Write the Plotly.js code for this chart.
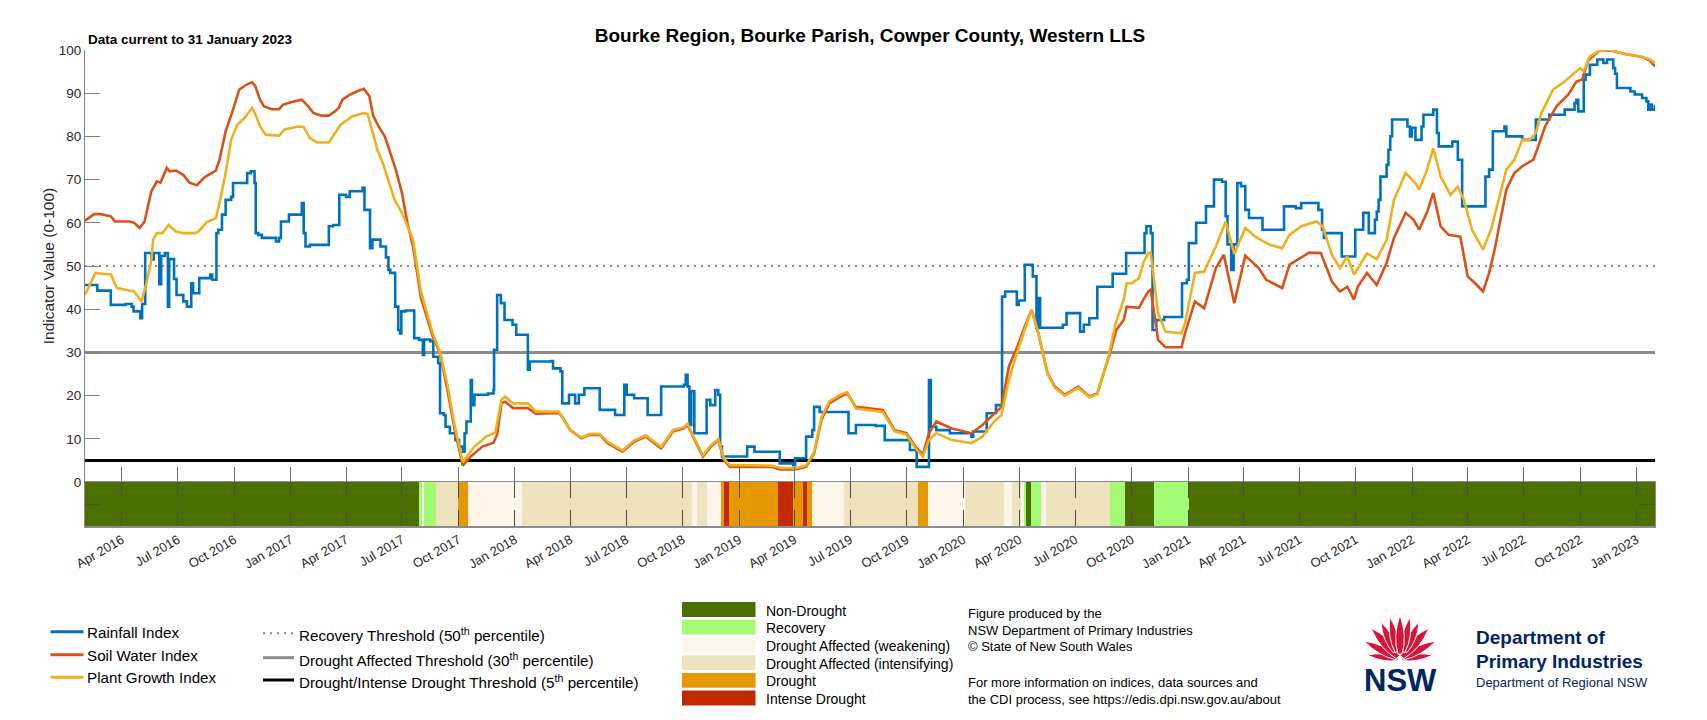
<!DOCTYPE html>
<html>
<head>
<meta charset="utf-8">
<script src="https://cdn.plot.ly/plotly-3.0.1.min.js"></script>
<style>
html,body{margin:0;padding:0;background:#fff;}
#chart{width:1707px;height:720px;}
</style>
</head>
<body>
<div id="chart"></div>
<script>
// ---------------- DATA ----------------
const chartTitle = 'Bourke Region, Bourke Parish, Cowper County, Western LLS';
const dataNote = 'Data current to 31 January 2023';
const xStart = '2016-02-01';
const xEnd = '2023-01-31';

const seriesNames = ['Rainfall Index', 'Soil Water Index', 'Plant Growth Index'];
const seriesColors = ['#0072BD', '#D95319', '#EDB120'];

const rainDates = ['2016-02-01','2016-02-21','2016-03-14','2016-04-07','2016-04-17','2016-04-20','2016-05-01','2016-05-04','2016-05-09','2016-05-19','2016-05-23','2016-06-01','2016-06-04','2016-06-10','2016-06-15','2016-06-17','2016-06-25','2016-06-29','2016-07-10','2016-07-16','2016-07-23','2016-07-26','2016-08-05','2016-08-23','2016-08-26','2016-09-02','2016-09-05','2016-09-11','2016-09-17','2016-09-26','2016-09-29','2016-10-22','2016-10-28','2016-11-03','2016-11-05','2016-11-09','2016-11-15','2016-12-08','2016-12-13','2016-12-16','2016-12-29','2017-01-19','2017-01-22','2017-01-25','2017-02-01','2017-03-04','2017-03-11','2017-03-21','2017-04-01','2017-04-07','2017-04-28','2017-05-01','2017-05-10','2017-05-14','2017-05-27','2017-06-05','2017-06-09','2017-06-12','2017-06-20','2017-06-25','2017-06-28','2017-06-30','2017-07-07','2017-07-21','2017-07-29','2017-08-04','2017-08-06','2017-08-16','2017-08-21','2017-08-29','2017-09-01','2017-09-07','2017-09-10','2017-09-17','2017-09-26','2017-10-02','2017-10-08','2017-10-11','2017-10-14','2017-10-21','2017-10-23','2017-10-27','2017-11-18','2017-11-27','2017-11-28','2017-12-03','2017-12-09','2017-12-15','2017-12-28','2018-01-03','2018-01-22','2018-01-25','2018-02-28','2018-03-04','2018-03-16','2018-03-19','2018-03-30','2018-04-09','2018-04-15','2018-04-24','2018-05-19','2018-06-13','2018-06-28','2018-07-02','2018-07-14','2018-08-05','2018-08-27','2018-10-03','2018-10-06','2018-10-09','2018-10-12','2018-10-15','2018-10-20','2018-11-09','2018-11-15','2018-11-23','2018-11-28','2018-12-01','2018-12-04','2019-01-14','2019-01-26','2019-03-08','2019-03-30','2019-04-02','2019-04-20','2019-04-30','2019-05-03','2019-05-12','2019-06-28','2019-07-10','2019-08-11','2019-08-26','2019-10-06','2019-10-17','2019-11-06','2019-11-09','2019-11-18','2019-12-10','2020-01-14','2020-01-17','2020-02-08','2020-02-23','2020-03-04','2020-03-09','2020-03-28','2020-03-31','2020-04-10','2020-04-23','2020-04-29','2020-05-02','2020-05-05','2020-06-11','2020-06-17','2020-07-09','2020-07-15','2020-07-24','2020-08-06','2020-08-31','2020-09-22','2020-10-22','2020-10-25','2020-11-01','2020-11-04','2020-11-10','2020-11-23','2020-12-22','2020-12-30','2021-01-02','2021-01-14','2021-01-30','2021-02-12','2021-02-25','2021-03-03','2021-03-06','2021-03-12','2021-03-16','2021-03-22','2021-03-28','2021-04-04','2021-04-10','2021-05-02','2021-06-06','2021-06-25','2021-07-04','2021-08-01','2021-08-07','2021-08-10','2021-08-13','2021-09-08','2021-09-30','2021-10-13','2021-10-22','2021-11-01','2021-11-04','2021-11-07','2021-11-10','2021-11-20','2021-11-23','2021-11-26','2021-11-29','2021-12-24','2021-12-28','2021-12-31','2022-01-06','2022-01-16','2022-01-19','2022-02-04','2022-02-10','2022-02-13','2022-03-07','2022-03-16','2022-03-23','2022-04-30','2022-05-06','2022-05-12','2022-05-31','2022-06-03','2022-06-29','2022-07-21','2022-08-12','2022-09-06','2022-09-22','2022-09-25','2022-09-28','2022-10-07','2022-10-10','2022-10-17','2022-10-29','2022-11-08','2022-11-14','2022-11-24','2022-11-27','2022-11-30','2022-12-22','2022-12-29','2023-01-10','2023-01-17','2023-01-20','2023-01-23','2023-01-26','2023-01-31'];
const rainValues = [45.6,44.3,41.0,41.2,40.6,39.5,37.9,41.2,53.0,51.5,53.0,45.8,52.3,53.0,40.6,51.6,47.0,43.3,41.8,40.6,46.0,43.7,47.2,48.0,46.8,57.6,58.4,61.9,65.3,66.0,69.2,71.5,71.9,69.2,57.6,57.2,56.5,55.7,56.5,60.3,61.9,64.6,57.6,54.5,54.9,59.2,59.5,66.5,66.0,67.3,68.1,63.0,54.1,56.1,54.5,52.0,49.1,48.4,40.6,35.2,34.4,39.5,39.7,33.3,32.9,29.4,33.0,32.6,29.0,27.5,15.9,15.5,12.8,11.3,9.7,8.2,7.0,11.3,14.0,23.6,17.8,20.2,20.5,21.3,30.6,43.3,41.4,37.5,36.4,34.1,26.0,27.9,28.0,26.3,25.6,18.2,20.2,18.2,20.2,21.7,16.7,15.5,22.5,20.2,19.4,15.5,22.1,22.5,24.8,22.1,13.2,21.0,11.3,19.0,17.8,21.3,20.2,8.2,5.9,8.2,7.0,4.3,3.9,5.5,10.5,12.0,17.4,16.2,11.3,13.2,13.0,9.7,7.4,3.5,23.6,12.8,12.0,11.3,10.5,11.7,15.9,17.8,42.9,44.1,41.0,42.0,50.3,47.6,35.6,42.6,35.7,36.4,39.1,34.8,36.4,37.9,45.2,48.2,53.0,57.6,59.2,57.6,35.2,37.5,38.2,46.0,46.8,55.3,60.0,63.8,70.0,69.5,61.5,55.0,49.1,55.0,69.2,68.5,63.0,61.1,58.4,63.8,63.4,64.6,63.0,58.4,56.5,57.6,52.2,58.4,62.3,57.6,60.7,62.6,65.3,70.7,73.4,76.9,80.0,83.9,82.3,80.0,82.0,79.2,82.3,85.0,86.2,80.8,77.7,78.8,74.6,63.8,70.7,72.3,81.2,82.3,80.0,79.2,83.9,85.0,86.2,87.7,88.5,85.8,93.1,94.3,96.6,97.8,97.0,97.8,95.8,94.5,91.2,90.4,89.7,88.9,88.1,86.2,87.4,86.2,87.3];

const soilDates = ['2016-02-01','2016-02-16','2016-02-26','2016-03-08','2016-03-14','2016-03-21','2016-04-14','2016-04-21','2016-04-30','2016-05-08','2016-05-19','2016-05-28','2016-06-03','2016-06-13','2016-06-18','2016-06-28','2016-07-10','2016-07-20','2016-08-01','2016-08-14','2016-09-01','2016-09-07','2016-09-17','2016-09-29','2016-10-09','2016-10-21','2016-10-30','2016-11-04','2016-11-12','2016-11-18','2016-12-01','2016-12-13','2016-12-19','2017-01-01','2017-01-19','2017-01-29','2017-02-07','2017-02-20','2017-03-04','2017-03-14','2017-03-20','2017-03-26','2017-04-08','2017-04-20','2017-04-30','2017-05-09','2017-05-15','2017-05-24','2017-06-03','2017-06-12','2017-06-21','2017-07-01','2017-07-10','2017-07-19','2017-08-01','2017-08-20','2017-09-01','2017-09-13','2017-09-25','2017-10-08','2017-10-21','2017-11-09','2017-11-27','2017-12-03','2017-12-10','2017-12-16','2017-12-29','2018-01-22','2018-02-04','2018-03-13','2018-03-19','2018-04-01','2018-04-19','2018-05-02','2018-05-19','2018-06-01','2018-06-25','2018-07-14','2018-08-02','2018-08-27','2018-09-15','2018-10-03','2018-10-09','2018-10-23','2018-11-03','2018-11-16','2018-11-28','2018-12-07','2018-12-17','2019-01-04','2019-02-23','2019-03-08','2019-04-02','2019-04-20','2019-05-03','2019-05-15','2019-05-28','2019-06-15','2019-06-26','2019-07-10','2019-08-23','2019-09-11','2019-09-30','2019-10-15','2019-10-27','2019-11-06','2019-11-18','2019-12-13','2020-01-14','2020-02-01','2020-02-20','2020-03-03','2020-03-15','2020-03-28','2020-04-10','2020-04-21','2020-05-02','2020-05-17','2020-05-29','2020-06-14','2020-07-06','2020-07-24','2020-08-06','2020-08-25','2020-09-06','2020-09-18','2020-09-23','2020-10-13','2020-10-20','2020-10-28','2020-11-01','2020-11-13','2020-11-25','2020-12-21','2020-12-27','2021-01-12','2021-01-27','2021-02-15','2021-02-28','2021-03-17','2021-04-04','2021-04-26','2021-05-08','2021-06-03','2021-06-15','2021-07-17','2021-08-05','2021-08-23','2021-09-05','2021-09-17','2021-09-28','2021-10-04','2021-10-19','2021-11-04','2021-11-20','2021-12-02','2021-12-21','2022-01-03','2022-01-12','2022-01-25','2022-02-04','2022-02-16','2022-03-01','2022-03-20','2022-03-26','2022-04-01','2022-04-13','2022-04-26','2022-05-06','2022-05-15','2022-06-03','2022-06-16','2022-06-29','2022-07-17','2022-07-23','2022-08-05','2022-08-24','2022-09-12','2022-09-25','2022-10-04','2022-10-14','2022-11-01','2022-11-20','2022-12-09','2023-01-10','2023-01-22','2023-01-31'];
const soilValues = [60.5,62.0,62.0,61.7,61.5,60.3,60.3,60.0,58.8,60.3,67.3,69.6,69.3,72.7,71.9,72.1,71.1,69.3,68.7,70.6,72.1,74.6,81.2,86.2,90.8,92.0,92.5,91.7,88.5,87.0,86.3,86.3,87.3,87.9,88.5,87.0,85.4,84.8,84.8,85.8,86.6,88.5,89.7,90.5,91.0,89.3,84.8,82.3,80.0,76.2,72.3,66.9,59.9,54.5,42.6,33.7,29.8,21.3,12.0,3.8,5.9,8.2,9.1,11.0,18.3,18.6,17.1,17.1,15.8,16.0,15.1,12.0,10.1,10.9,10.9,9.0,7.0,9.3,10.5,7.8,11.7,12.4,13.2,9.0,5.9,8.2,9.7,5.1,3.5,3.5,3.5,2.9,2.9,3.5,6.6,14.4,18.2,19.8,20.5,17.4,16.7,12.0,11.3,8.2,6.4,11.3,14.0,12.4,11.3,13.2,15.9,17.4,26.7,31.0,36.0,39.9,34.4,25.2,22.1,20.2,22.1,19.8,20.5,29.0,35.2,37.5,40.6,40.3,42.2,44.1,44.5,32.9,31.2,31.2,34.5,41.8,40.2,49.5,52.6,41.4,52.4,49.5,46.8,44.9,50.3,53.1,53.0,46.4,44.1,45.2,42.2,45.2,48.4,45.6,50.7,56.5,62.3,60.7,58.4,62.5,66.9,59.2,57.2,56.8,52.2,47.6,46.0,44.1,48.4,53.8,67.7,71.5,73.1,74.6,76.9,82.3,87.0,89.7,92.7,93.1,97.5,99.8,99.9,99.2,98.4,97.6,96.2];

const plantDates = ['2016-02-01','2016-02-09','2016-02-18','2016-03-08','2016-03-14','2016-03-24','2016-04-07','2016-04-21','2016-05-03','2016-05-11','2016-05-19','2016-05-22','2016-05-28','2016-06-06','2016-06-16','2016-06-28','2016-07-10','2016-07-29','2016-08-04','2016-08-17','2016-09-01','2016-09-07','2016-09-17','2016-09-26','2016-10-06','2016-10-18','2016-10-30','2016-11-06','2016-11-12','2016-11-21','2016-12-13','2016-12-22','2017-01-13','2017-01-22','2017-02-01','2017-02-13','2017-03-04','2017-03-14','2017-03-23','2017-04-11','2017-04-30','2017-05-06','2017-05-12','2017-05-22','2017-05-31','2017-06-19','2017-07-01','2017-07-19','2017-08-01','2017-08-20','2017-09-01','2017-09-13','2017-09-25','2017-10-08','2017-10-27','2017-11-15','2017-11-30','2017-12-10','2017-12-16','2017-12-29','2018-01-22','2018-02-04','2018-03-13','2018-03-19','2018-04-01','2018-04-19','2018-05-02','2018-05-19','2018-06-01','2018-06-25','2018-07-14','2018-08-02','2018-08-27','2018-09-15','2018-10-03','2018-10-09','2018-10-23','2018-11-03','2018-11-16','2018-11-28','2018-12-07','2018-12-17','2019-01-04','2019-02-23','2019-03-08','2019-04-02','2019-04-20','2019-05-03','2019-05-15','2019-05-28','2019-06-15','2019-06-26','2019-07-10','2019-08-23','2019-09-11','2019-09-30','2019-10-15','2019-10-27','2019-11-06','2019-11-18','2019-12-13','2020-01-14','2020-02-01','2020-02-20','2020-03-03','2020-03-15','2020-03-28','2020-04-10','2020-04-21','2020-05-02','2020-05-17','2020-05-29','2020-06-14','2020-07-06','2020-07-24','2020-08-06','2020-08-25','2020-09-05','2020-09-18','2020-09-23','2020-10-01','2020-10-13','2020-10-20','2020-10-28','2020-11-01','2020-11-13','2020-11-25','2020-12-21','2020-12-27','2021-01-12','2021-01-27','2021-02-15','2021-03-03','2021-03-17','2021-04-04','2021-04-20','2021-05-14','2021-06-03','2021-06-15','2021-07-04','2021-07-29','2021-08-08','2021-08-23','2021-09-05','2021-09-17','2021-09-28','2021-10-19','2021-11-04','2021-11-20','2021-12-02','2021-12-21','2022-01-06','2022-01-12','2022-01-25','2022-02-04','2022-02-16','2022-03-04','2022-03-16','2022-03-26','2022-04-08','2022-04-26','2022-05-09','2022-05-21','2022-06-03','2022-06-16','2022-06-29','2022-07-11','2022-07-21','2022-07-30','2022-08-18','2022-09-06','2022-09-18','2022-10-01','2022-10-07','2022-10-17','2022-11-01','2022-11-20','2022-12-09','2023-01-10','2023-01-22','2023-01-31'];
const plantValues = [43.3,45.8,48.4,48.1,48.1,44.9,44.5,44.1,41.8,46.0,51.4,56.1,57.6,57.6,59.5,58.0,57.6,57.6,58.0,60.1,61.1,64.6,71.5,79.2,82.7,84.3,86.6,84.6,82.3,80.4,80.2,81.6,82.3,82.2,79.6,78.6,78.6,80.8,82.7,84.6,85.4,85.2,82.3,76.9,73.8,65.3,62.3,56.1,44.0,34.5,30.0,22.5,13.0,4.6,8.2,10.5,11.4,19.0,19.8,18.2,18.2,16.3,16.3,15.1,12.0,10.3,11.1,11.1,9.3,7.3,9.6,10.8,8.1,12.0,12.7,13.5,9.3,6.2,8.5,10.0,5.4,3.9,3.9,3.8,3.3,3.2,3.8,7.0,15.0,18.7,20.2,20.8,17.0,16.2,11.7,11.0,7.8,5.9,9.7,11.3,9.7,9.0,10.5,14.0,15.5,23.6,29.8,35.2,39.9,34.6,25.0,21.8,20.0,21.8,19.6,20.3,29.5,36.8,42.2,46.0,46.0,47.2,50.7,53.0,53.1,39.1,34.8,34.4,36.8,48.4,48.7,54.5,60.3,52.8,58.8,56.8,54.9,54.1,57.2,59.2,60.3,59.2,52.6,49.5,52.2,48.0,52.9,51.6,56.0,65.3,71.5,69.2,67.7,72.3,77.3,70.7,66.5,68.4,65.3,58.4,53.8,58.4,65.3,72.3,74.6,79.2,79.2,80.8,85.4,90.8,92.7,94.2,95.8,95.1,98.5,99.8,100.0,99.2,98.4,97.9,97.0];

const thresholdNames = ['Recovery Threshold (50<sup>th</sup> percentile)', 'Drought Affected Threshold (30<sup>th</sup> percentile)', 'Drought/Intense Drought Threshold (5<sup>th</sup> percentile)'];
const thresholdValues = [50, 30, 5];

const classNames = ['Non-Drought', 'Recovery', 'Drought Affected (weakening)', 'Drought Affected (intensifying)', 'Drought', 'Intense Drought'];
const classColors = ['#4C7000', '#A3FA73', '#FDF5EA', '#EEE2BF', '#E69800', '#C12A00'];
// start date of each drought-category period (each runs until the next start, the last until xEnd)
const classStarts = ['2016-02-01','2017-07-28','2017-08-02','2017-08-06','2017-08-25','2017-09-30','2017-10-16','2018-01-12','2018-10-16','2018-10-24','2018-11-09','2018-12-02','2018-12-07','2018-12-15','2019-03-05','2019-03-29','2019-04-15','2019-04-21','2019-04-29','2019-06-21','2019-10-19','2019-11-04','2020-01-03','2020-03-07','2020-03-20','2020-04-04','2020-04-09','2020-04-12','2020-04-20','2020-05-06','2020-05-14','2020-08-27','2020-09-20','2020-11-06','2021-01-02'];
const classCodes = [0,1,2,1,3,4,2,3,2,3,2,4,5,4,5,4,5,4,2,3,4,2,3,2,3,2,1,0,1,2,3,1,0,1,0];

const infoLines = ['Figure produced by the', 'NSW Department of Primary Industries', '\u00A9 State of New South Wales', 'For more information on indices, data sources and', 'the CDI process, see https://edis.dpi.nsw.gov.au/about'];

// ---------------- LAYOUT HELPERS ----------------
const W = 1707, H = 720, ML = 85, MR = 52, MT = 50, MB = 194;
const PW = W - ML - MR, PH = H - MT - MB;
const stripPx = 44;
const PX = x => (x - ML) / PW;
const PY = y => (H - MB - y) / PH;

const FONT = 'Liberation Sans, Arial, Helvetica, sans-serif';

// ---------------- TRACES ----------------
const traces = [];

const thrStyles = [
  {color: '#8a8a8a', width: 2, dash: '2px,5px'},
  {color: '#8c8c8c', width: 3},
  {color: '#000000', width: 3}
];
thresholdValues.forEach((v, i) => {
  traces.push({
    type: 'scatter', mode: 'lines', x: [xStart, xEnd], y: [v, v],
    xaxis: 'x2', yaxis: 'y', line: thrStyles[i], hoverinfo: 'skip', name: thresholdNames[i]
  });
});

const seriesX = [rainDates, soilDates, plantDates];
const seriesY = [rainValues, soilValues, plantValues];
seriesNames.forEach((n, i) => {
  traces.push({
    type: 'scatter', mode: 'lines', name: n,
    x: seriesX[i], y: seriesY[i], xaxis: 'x2', yaxis: 'y',
    line: {color: seriesColors[i], width: 2.6, shape: i === 0 ? 'hv' : 'linear'}
  });
});

// drought category strip (heatmap with period edges)
const nCls = classColors.length;
const cs = [];
classColors.forEach((c, k) => { cs.push([k / nCls, c]); cs.push([(k + 1) / nCls, c]); });
traces.push({
  type: 'heatmap', x: classStarts.concat([xEnd]), y: [0, 1], z: [classCodes],
  xaxis: 'x', yaxis: 'y2', zmin: -0.5, zmax: nCls - 0.5, colorscale: cs,
  showscale: false, hoverinfo: 'skip', zsmooth: false
});

// ---------------- ANNOTATIONS & SHAPES (legend, notes, logo) ----------------
const ann = [];
const shapes = [];

ann.push({xref: 'paper', yref: 'paper', x: PX(86), y: PY(39), xanchor: 'left', yanchor: 'middle',
  text: '<b>' + dataNote + '</b>', showarrow: false, font: {size: 13.5, color: '#000'}});

// series legend
const legRowsA = [631.7, 654.7, 677.3];
seriesNames.forEach((n, i) => {
  shapes.push({type: 'line', xref: 'paper', yref: 'paper', x0: PX(50.5), x1: PX(83.5), y0: PY(legRowsA[i]), y1: PY(legRowsA[i]),
    line: {color: seriesColors[i], width: 3}});
  ann.push({xref: 'paper', yref: 'paper', x: PX(85), y: PY(legRowsA[i] + 0.5), xanchor: 'left', yanchor: 'middle',
    text: n, showarrow: false, font: {size: 15.2, color: '#000'}});
});

// threshold legend
const legRowsB = [633.3, 657.7, 680];
thresholdNames.forEach((n, i) => {
  shapes.push({type: 'line', xref: 'paper', yref: 'paper', x0: PX(263), x1: PX(294), y0: PY(legRowsB[i]), y1: PY(legRowsB[i]),
    line: thrStyles[i]});
  ann.push({xref: 'paper', yref: 'paper', x: PX(296.5), y: PY(legRowsB[i] + 1.5), xanchor: 'left', yanchor: 'middle',
    text: n, showarrow: false, font: {size: 15.2, color: '#000'}});
});

// category legend
classNames.forEach((n, i) => {
  const yc = 609.5 + 17.7 * i;
  shapes.push({type: 'rect', xref: 'paper', yref: 'paper', x0: PX(682), x1: PX(755.5), y0: PY(yc - 7.4), y1: PY(yc + 7.4),
    fillcolor: classColors[i], line: {width: 0}});
  ann.push({xref: 'paper', yref: 'paper', x: PX(763.5), y: PY(yc + 1), xanchor: 'left', yanchor: 'middle',
    text: n, showarrow: false, font: {size: 14, color: '#000'}});
});

// info text
const infoY = [613, 630, 646.5, 682, 699];
infoLines.forEach((t, i) => {
  ann.push({xref: 'paper', yref: 'paper', x: PX(965.5), y: PY(infoY[i]), xanchor: 'left', yanchor: 'middle',
    text: t, showarrow: false, font: {size: 13, color: '#000'}});
});

// NSW waratah logo
function leaf(bx, by, tx, ty, w) {
  const dx = tx - bx, dy = ty - by, L = Math.hypot(dx, dy);
  const nx = -dy / L, ny = dx / L;
  const mx = bx + dx * 0.45, my = by + dy * 0.45;
  const p = (x, y) => PX(x).toFixed(5) + ',' + PY(y).toFixed(5);
  return 'M' + p(bx + nx * w * 0.35, by + ny * w * 0.35) +
    ' Q' + p(mx + nx * w * 1.25, my + ny * w * 1.25) + ' ' + p(tx, ty) +
    ' Q' + p(mx - nx * w * 1.25, my - ny * w * 1.25) + ' ' + p(bx - nx * w * 0.35, by - ny * w * 0.35) + ' Z';
}
const petals = [
  [1398, 659, 1367, 655, 4.5], [1402, 659, 1433, 655, 4.5],
  [1397, 658, 1364, 641, 5.5], [1403, 658, 1436, 641, 5.5],
  [1398, 657, 1371, 628, 6.5], [1402, 657, 1429, 628, 6.5],
  [1395, 652, 1381, 622, 5.5], [1405, 652, 1419, 622, 5.5],
  [1397, 652, 1390, 617, 5.5], [1403, 652, 1410, 617, 5.5],
  [1400, 654, 1400, 615, 6]
];
petals.forEach(p => shapes.push({type: 'path', xref: 'paper', yref: 'paper', path: leaf(...p),
  fillcolor: '#D7153A', line: {color: '#ffffff', width: 1}}));

ann.push({xref: 'paper', yref: 'paper', x: PX(1400.5), y: PY(680), xanchor: 'center', yanchor: 'middle',
  text: '<b>NSW</b>', showarrow: false, font: {size: 31, color: '#002664', family: FONT}});
ann.push({xref: 'paper', yref: 'paper', x: PX(1474), y: PY(637.5), xanchor: 'left', yanchor: 'middle',
  text: '<b>Department of</b>', showarrow: false, font: {size: 19, color: '#002664'}});
ann.push({xref: 'paper', yref: 'paper', x: PX(1474), y: PY(661), xanchor: 'left', yanchor: 'middle',
  text: '<b>Primary Industries</b>', showarrow: false, font: {size: 19, color: '#002664'}});
ann.push({xref: 'paper', yref: 'paper', x: PX(1474), y: PY(682), xanchor: 'left', yanchor: 'middle',
  text: 'Department of Regional NSW', showarrow: false, font: {size: 13, color: '#002664'}});

// ---------------- LAYOUT ----------------
const stripFrac = stripPx / PH;
const layout = {
  width: W, height: H,
  margin: {l: ML, r: MR, t: MT, b: MB, pad: 0},
  paper_bgcolor: '#ffffff', plot_bgcolor: 'rgba(0,0,0,0)',
  font: {family: FONT, color: '#262626', size: 13},
  showlegend: false,
  title: {text: '<b>' + chartTitle + '</b>', font: {size: 19, color: '#000'}, x: 0.5, xref: 'paper', xanchor: 'center',
    y: 1 - 35 / H, yref: 'container', yanchor: 'middle'},
  xaxis: {
    type: 'date', range: [xStart, xEnd], anchor: 'y2', domain: [0, 1],
    tickformat: '%b %Y', dtick: 'M3', tick0: '2016-01-01', tickangle: -30,
    ticks: 'inside', ticklen: 16, tickcolor: '#4d4d4d', tickwidth: 1,
    showline: true, linecolor: '#8c8c8c', linewidth: 1.5, mirror: 'ticks',
    showgrid: false, zeroline: false, tickfont: {size: 13, color: '#262626'}, automargin: false
  },
  xaxis2: {
    type: 'date', matches: 'x', anchor: 'y', domain: [0, 1],
    dtick: 'M3', tick0: '2016-01-01', ticks: 'inside', ticklen: 15, tickcolor: '#6e6e6e', tickwidth: 1,
    showticklabels: false, showline: false, showgrid: false, zeroline: false
  },
  yaxis: {
    domain: [stripFrac, 1], range: [0, 100], anchor: 'x2',
    tickmode: 'array', tickvals: [0, 10, 20, 30, 40, 50, 60, 70, 80, 90, 100],
    ticks: 'inside', ticklen: 15, tickcolor: '#808080', tickwidth: 1,
    showline: true, linecolor: '#808080', linewidth: 1,
    showgrid: false, zeroline: false, tickfont: {size: 13.5, color: '#262626'},
    title: {text: 'Indicator Value (0-100)', font: {size: 15.5, color: '#262626'}, standoff: 0},
    automargin: false
  },
  yaxis2: {
    domain: [0, stripFrac], range: [0, 1], anchor: 'x',
    tickmode: 'array', tickvals: [0.5], showticklabels: false,
    ticks: 'inside', ticklen: 16, tickcolor: '#4d4d4d',
    showline: true, linecolor: '#8c8c8c', linewidth: 1, mirror: 'ticks',
    showgrid: false, zeroline: false, fixedrange: true
  },
  annotations: ann,
  shapes: shapes
};

Plotly.newPlot('chart', traces, layout, {displayModeBar: false, staticPlot: true});
</script>
</body>
</html>
